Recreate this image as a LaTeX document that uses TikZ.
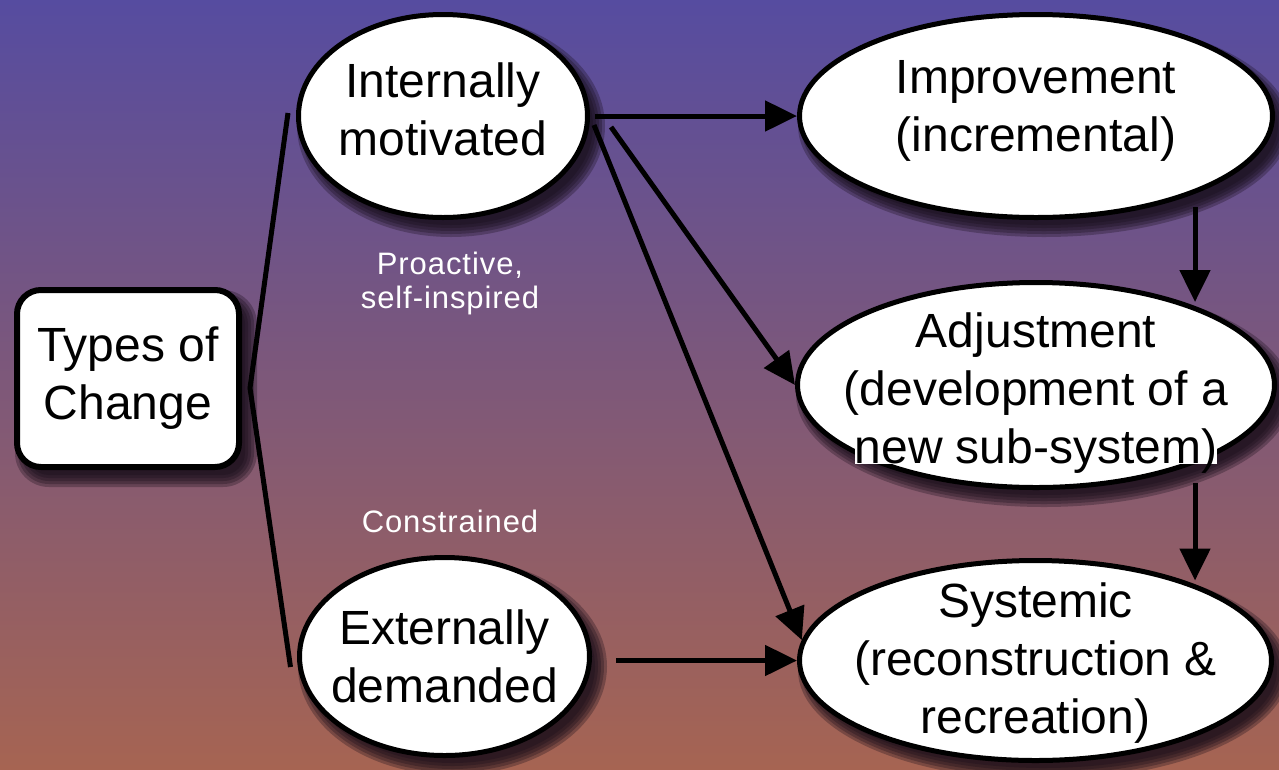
\documentclass[tikz,border=0pt]{standalone}
\usepackage{fontspec}
\setmainfont{Liberation Sans}
\newfontfamily\notefont[LetterSpace=3]{Liberation Sans}
\usetikzlibrary{shapes.geometric,arrows.meta,calc}
\definecolor{bgtop}{RGB}{86,76,160}
\definecolor{bgmid}{RGB}{132,90,130}
\definecolor{bgbot}{RGB}{166,100,82}
\definecolor{shadowc}{RGB}{22,12,24}
\begin{document}
\begin{tikzpicture}[x=1pt,y=-1pt,
  shadlayer/.style={fill=shadowc,fill opacity=0.3},
  oval/.style={ellipse,draw=black,line width=5pt,fill=white,inner sep=0pt},
  txt/.style={font=\fontsize{48}{58}\selectfont,align=center,inner sep=0pt,text=black},
  note/.style={font=\notefont\fontsize{31}{34}\selectfont,align=center,text=white,inner sep=0pt},
  arr/.style={line width=5pt,-{Triangle[length=32pt,width=30pt]}},
  link/.style={line width=5pt}]
\useasboundingbox (0,0) rectangle (1279,769);
\shade[top color=bgtop,middle color=bgmid,bottom color=bgbot] (0,0) rectangle (1279,769);

% centres
\coordinate (cT) at (128,378.5);
\coordinate (cI) at (443,116);
\coordinate (cE) at (444.5,656.5);
\coordinate (cM) at (1036,116);
\coordinate (cA) at (1036,385);
\coordinate (cS) at (1035.5,660.5);

% soft drop shadows
\foreach \g in {7,4,1,-2,-5}{
  \fill[shadlayer,rounded corners=27+\g] ($(cT)+(8-114-\g,10-91.5-\g)$) rectangle ($(cT)+(8+114+\g,10+91.5+\g)$);
  \fill[shadlayer] ($(cI)+(8,10)$) ellipse [x radius=147+\g, y radius=104+\g];
  \fill[shadlayer] ($(cE)+(8,10)$) ellipse [x radius=147.5+\g, y radius=101.5+\g];
  \fill[shadlayer] ($(cM)+(8,10)$) ellipse [x radius=239+\g, y radius=104+\g];
  \fill[shadlayer] ($(cA)+(8,10)$) ellipse [x radius=241+\g, y radius=105+\g];
  \fill[shadlayer] ($(cS)+(8,10)$) ellipse [x radius=238.5+\g, y radius=102.5+\g];
}

% nodes
\node[draw=black,line width=6pt,fill=white,rounded corners=24pt,minimum width=222pt,minimum height=177pt,txt] (types) at (cT) {Types of\\Change};
\node[oval,minimum width=289pt,minimum height=203pt,label={[txt,yshift=6.6pt]center:{Internally\\motivated}}] (intm) at (cI) {};
\node[oval,minimum width=290pt,minimum height=198pt,label={[txt]center:{Externally\\demanded}}] (extd) at (cE) {};
\node[oval,minimum width=473pt,minimum height=203pt,label={[txt,yshift=5pt]center:{Improvement\\(incremental)}}] (impr) at (cM) {};
\node[oval,minimum width=477pt,minimum height=205pt,label={[txt,yshift=-3.5pt]center:{Adjustment\\(development of a\\{\fboxsep=0pt\colorbox{white}{\raisebox{0pt}[\height][0pt]{new sub-system)}}}}}] (adj) at (cA) {};
\node[oval,minimum width=472pt,minimum height=200pt,label={[txt,yshift=-3pt]center:{Systemic\\(reconstruction \&\\recreation)}}] (sys) at (cS) {};

\node[note] (pro) at (450,283) {Proactive,\\self-inspired};
\node[note] (con) at (450,521.5) {Constrained};

% connectors
\coordinate (jn) at (250,388);
\draw[link] ($(intm.west)+(-8,-3)$) -- (jn) -- ($(extd.west)+(-6.5,10.5)$);
\draw[arr] ([xshift=5pt]intm.east) -- (impr.west);
\draw[arr] ($(intm.center)+(168,11)$) -- (adj.west);
\draw[arr] ($(intm.center)+(151,9)$) -- (sys.175);
\draw[arr] ([xshift=24pt]extd.east |- sys.west) -- (sys.west);
\draw[arr] ($(impr.center)+(159,91)$) -- ($(adj.center)+(159,-83)$);
\draw[arr] ($(adj.center)+(159,98)$) -- ($(sys.center)+(159.5,-80)$);
\end{tikzpicture}
\end{document}
